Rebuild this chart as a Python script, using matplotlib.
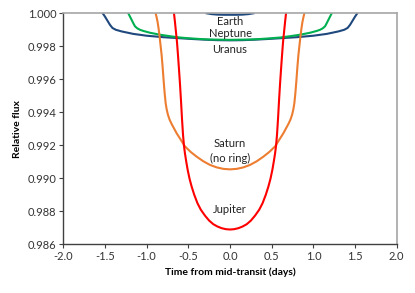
import matplotlib
matplotlib.use("Agg")
import matplotlib.pyplot as plt
from matplotlib.ticker import FormatStrFormatter, MultipleLocator

plt.rcParams['font.family'] = ['Lato', 'DejaVu Sans']

# Jupiter (red)
jup_t = [-0.672, -0.660, -0.648, -0.636, -0.624, -0.612, -0.600, -0.588, -0.576, -0.564,
         -0.552, -0.540, -0.525, -0.508, -0.485, -0.460, -0.430, -0.390, -0.350, -0.300,
         -0.250, -0.200, -0.150, -0.100, -0.050, 0.0,
         0.050, 0.100, 0.150, 0.200, 0.250, 0.300, 0.350, 0.390, 0.430, 0.460,
         0.485, 0.508, 0.525, 0.540, 0.552, 0.564, 0.576, 0.588, 0.600, 0.612,
         0.624, 0.636, 0.648, 0.660, 0.672]
jup_f = [1.0000, 0.99945, 0.99885, 0.99825, 0.99745, 0.99660, 0.99570, 0.99470, 0.99360, 0.99265,
         0.99195, 0.99148, 0.99100, 0.99050, 0.98995, 0.98948, 0.98900, 0.98847, 0.98808, 0.98772,
         0.98742, 0.98720, 0.98706, 0.98696, 0.98690, 0.98688,
         0.98690, 0.98696, 0.98706, 0.98720, 0.98742, 0.98772, 0.98808, 0.98847, 0.98900, 0.98948,
         0.98995, 0.99050, 0.99100, 0.99148, 0.99195, 0.99265, 0.99360, 0.99470, 0.99570, 0.99660,
         0.99745, 0.99825, 0.99885, 0.99945, 1.0000]

# Saturn, no ring (orange)
sat_t = [-0.892, -0.880, -0.868, -0.856, -0.844, -0.832, -0.820, -0.808, -0.796, -0.784,
         -0.772, -0.760, -0.745, -0.725, -0.700, -0.670, -0.640, -0.600, -0.540, -0.470,
         -0.400, -0.320, -0.240, -0.160, -0.080, 0.0,
         0.080, 0.160, 0.240, 0.320, 0.400, 0.470, 0.540, 0.600, 0.640, 0.670,
         0.700, 0.725, 0.745, 0.760, 0.772, 0.784, 0.796, 0.808, 0.820, 0.832,
         0.844, 0.856, 0.868, 0.880, 0.892]
sat_f = [1.0000, 0.99975, 0.99945, 0.99905, 0.99855, 0.99800, 0.99745, 0.99672, 0.99590, 0.99515,
         0.99455, 0.99418, 0.99385, 0.99355, 0.99328, 0.99300, 0.99272, 0.99240, 0.99192, 0.99158,
         0.99130, 0.99102, 0.99080, 0.99065, 0.99056, 0.99053,
         0.99056, 0.99065, 0.99080, 0.99102, 0.99130, 0.99158, 0.99192, 0.99240, 0.99272, 0.99300,
         0.99328, 0.99355, 0.99385, 0.99418, 0.99455, 0.99515, 0.99590, 0.99672, 0.99745, 0.99800,
         0.99855, 0.99905, 0.99945, 0.99975, 1.0000]

# Neptune (green)
nep_t = [-1.22, -1.20, -1.18, -1.16, -1.14, -1.11, -1.08, -1.04, -0.96, -0.84,
         -0.72, -0.60, -0.48, -0.36, -0.24, -0.12, 0.0,
         0.12, 0.24, 0.36, 0.48, 0.60, 0.72, 0.84, 0.96, 1.04,
         1.08, 1.11, 1.14, 1.16, 1.18, 1.20, 1.22]
nep_f = [1.0000, 0.99980, 0.99960, 0.99940, 0.99921, 0.99908, 0.99900, 0.99893, 0.99882, 0.99870,
         0.99861, 0.99853, 0.99848, 0.99844, 0.99841, 0.99840, 0.99839,
         0.99840, 0.99841, 0.99844, 0.99848, 0.99853, 0.99861, 0.99870, 0.99882, 0.99893,
         0.99900, 0.99908, 0.99921, 0.99940, 0.99960, 0.99980, 1.0000]

# Uranus (dark blue)
ura_t = [-1.527, -1.50, -1.47, -1.44, -1.41, -1.37, -1.30, -1.16, -1.00, -0.80,
         -0.64, -0.45, -0.30, -0.15, 0.0,
         0.15, 0.30, 0.45, 0.64, 0.80, 1.00, 1.16, 1.30, 1.37,
         1.41, 1.44, 1.47, 1.50, 1.527]
ura_f = [1.0000, 0.99980, 0.99955, 0.99930, 0.99911, 0.99900, 0.99890, 0.99875, 0.99864, 0.99855,
         0.99850, 0.99844, 0.99840, 0.99837, 0.99836,
         0.99837, 0.99840, 0.99844, 0.99850, 0.99855, 0.99864, 0.99875, 0.99890, 0.99900,
         0.99911, 0.99930, 0.99955, 0.99980, 1.0000]

# Earth (dark blue)
ear_t = [-0.28, -0.22, -0.15, -0.07, 0.0, 0.07, 0.15, 0.22, 0.28]
ear_f = [1.0000, 0.99995, 0.99992, 0.99991, 0.99991, 0.99991, 0.99992, 0.99995, 1.0000]

labels = [("Earth", 0.0, 0.99949), ("Neptune", 0.0, 0.99879), ("Uranus", 0.0, 0.99782),
          ("Saturn", 0.0, 0.99207), ("(no ring)", 0.0, 0.99121), ("Jupiter", 0.0, 0.98812)]

fig = plt.figure(figsize=(4.15, 2.93), dpi=100)
ax = fig.add_axes([0.1525, 0.1672, 0.8035, 0.7874])

navy = "#1F497D"
ax.plot(ura_t, ura_f, color=navy, lw=1.5, zorder=3)
ax.plot(nep_t, nep_f, color="#00B050", lw=1.5, zorder=3)
ax.plot(sat_t, sat_f, color="#ED7D31", lw=1.5, zorder=4)
ax.plot(jup_t, jup_f, color="#FF0000", lw=1.5, zorder=5)
ax.plot(ear_t, ear_f, color=navy, lw=1.5, zorder=3)

for txt, x, y in labels:
    ax.text(x, y, txt, ha="center", va="center", fontsize=8, color="#222222")

ax.set_xlim(-2.0, 2.0)
ax.set_ylim(0.986, 1.000)
ax.xaxis.set_major_locator(MultipleLocator(0.5))
ax.yaxis.set_major_locator(MultipleLocator(0.002))
ax.xaxis.set_major_formatter(FormatStrFormatter("%.1f"))
ax.yaxis.set_major_formatter(FormatStrFormatter("%.3f"))

for s in ("top", "right"):
    ax.spines[s].set_color("#A6A6A6")
    ax.spines[s].set_linewidth(1.2)
for s in ("left", "bottom"):
    ax.spines[s].set_color("#404040")
    ax.spines[s].set_linewidth(1.0)
ax.spines["top"].set_zorder(6)

ax.tick_params(axis="both", direction="out", length=3, width=0.8, color="#404040",
               labelsize=8, labelcolor="#333333", pad=2)

ax.set_xlabel("Time from mid-transit (days)", fontsize=7.5, fontweight="bold", labelpad=4)
ax.set_ylabel("Relative flux", fontsize=7.5, fontweight="bold", labelpad=4)

fig.savefig("out.png", dpi=100)
